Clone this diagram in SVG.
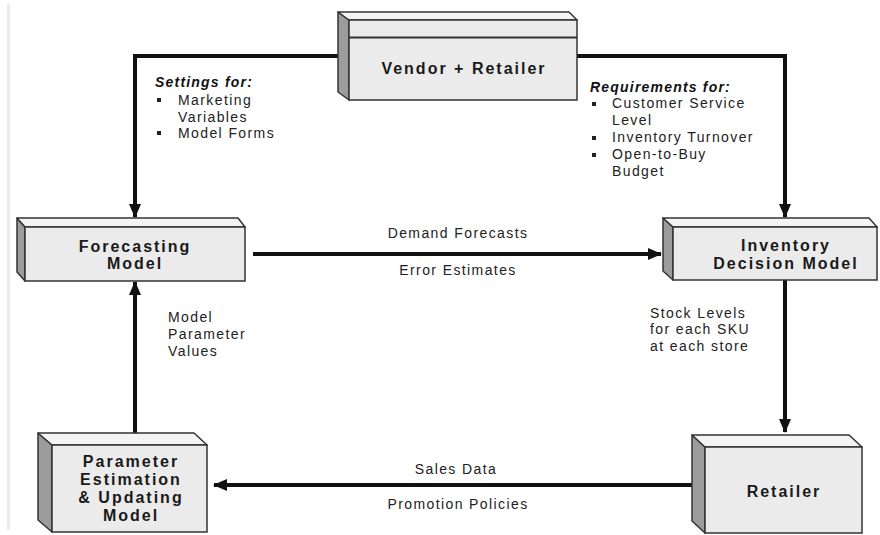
<svg xmlns="http://www.w3.org/2000/svg" width="880" height="535" viewBox="0 0 880 535">
<defs>
<marker id="ah" viewBox="0 0 14 12" refX="13" refY="6" markerWidth="14" markerHeight="12" markerUnits="userSpaceOnUse" orient="auto">
<path d="M0,0 L14,6 L0,12 Z" fill="#111"/>
</marker>
<style>
.front{fill:#ebebeb;stroke:#333;stroke-width:1.5}
.top{fill:#f4f4f4;stroke:#333;stroke-width:1.5;stroke-linejoin:round}
.side{fill:#9c9c9c;stroke:#333;stroke-width:1.5;stroke-linejoin:round}
.lbl{font-family:"Liberation Sans",Arial,sans-serif;font-weight:bold;font-size:16px;letter-spacing:2px;fill:#1a1a1a;text-anchor:middle}
.ann{font-family:"Liberation Sans",Arial,sans-serif;font-size:14px;letter-spacing:1.4px;fill:#222}
.annh{font-family:"Liberation Sans",Arial,sans-serif;font-size:14px;font-weight:bold;font-style:italic;letter-spacing:1.2px;fill:#111}
.mid{text-anchor:middle}
.conn{fill:none;stroke:#111;stroke-width:4}
.bul{fill:#222}
</style>
</defs>
<rect width="880" height="535" fill="#fff"/>
<line x1="8.5" y1="4" x2="8.5" y2="530" stroke="#ebebeb" stroke-width="3"/>

<g id="connectors">
<path class="conn" d="M338,56 H135 V217" marker-end="url(#ah)"/>
<path class="conn" d="M577,56 H785 V217" marker-end="url(#ah)"/>
<path class="conn" d="M253,254 H661" marker-end="url(#ah)"/>
<path class="conn" d="M785,280 V432" marker-end="url(#ah)"/>
<path class="conn" d="M692,485 H214" marker-end="url(#ah)"/>
<path class="conn" d="M135,433 V282" marker-end="url(#ah)"/>
</g>

<g id="node-vendor">
<polygon class="side" points="338,12 349,20 349,100 338,92"/>
<polygon class="top" points="338,12 569,12 577,20 349,20"/>
<rect class="front" x="349" y="20" width="228" height="80"/>
<line x1="349" y1="37.5" x2="577" y2="37.5" stroke="#333" stroke-width="2"/>
<text class="lbl" x="464" y="74">Vendor + Retailer</text>
</g>

<g id="node-forecasting">
<polygon class="side" points="17,218 25,227 25,281 17,272"/>
<polygon class="top" points="17,218 238,218 245,227 25,227"/>
<rect class="front" x="25" y="227" width="220" height="54"/>
<text class="lbl" x="135" y="251.5">Forecasting</text>
<text class="lbl" x="135" y="268.5">Model</text>
</g>

<g id="node-inventory">
<polygon class="side" points="663,218 673,227 673,280 663,271"/>
<polygon class="top" points="663,218 869,218 877,227 673,227"/>
<rect class="front" x="673" y="227" width="204" height="53"/>
<text class="lbl" x="786" y="251">Inventory</text>
<text class="lbl" x="786" y="269">Decision Model</text>
</g>

<g id="node-parameter">
<polygon class="side" points="38,433 52,445 52,532 38,520"/>
<polygon class="top" points="38,433 194,433 207,445 52,445"/>
<rect class="front" x="52" y="445" width="155" height="87"/>
<text class="lbl" x="131" y="467">Parameter</text>
<text class="lbl" x="131" y="485">Estimation</text>
<text class="lbl" x="131" y="503">&amp; Updating</text>
<text class="lbl" x="131" y="521">Model</text>
</g>

<g id="node-retailer">
<polygon class="side" points="692,435 705,447 705,533 692,521"/>
<polygon class="top" points="692,435 849,435 862,447 705,447"/>
<rect class="front" x="705" y="447" width="157" height="86"/>
<text class="lbl" x="784" y="497">Retailer</text>
</g>

<g id="labels">
<text class="annh" x="155" y="87">Settings for:</text>
<rect class="bul" x="157" y="98" width="4" height="4"/>
<text class="ann" x="178" y="105">Marketing</text>
<text class="ann" x="178" y="122">Variables</text>
<rect class="bul" x="157" y="131" width="4" height="4"/>
<text class="ann" x="178" y="138">Model Forms</text>

<text class="annh" x="590" y="92">Requirements for:</text>
<rect class="bul" x="592" y="102" width="4" height="4"/>
<text class="ann" x="612" y="108">Customer Service</text>
<text class="ann" x="612" y="125">Level</text>
<rect class="bul" x="592" y="136" width="4" height="4"/>
<text class="ann" x="612" y="142">Inventory Turnover</text>
<rect class="bul" x="592" y="153" width="4" height="4"/>
<text class="ann" x="612" y="159">Open-to-Buy</text>
<text class="ann" x="612" y="176">Budget</text>

<text class="ann mid" x="458" y="238">Demand Forecasts</text>
<text class="ann mid" x="458" y="275">Error Estimates</text>

<text class="ann" x="650" y="318">Stock Levels</text>
<text class="ann" x="650" y="334">for each SKU</text>
<text class="ann" x="650" y="351">at each store</text>

<text class="ann" x="168" y="322">Model</text>
<text class="ann" x="168" y="339">Parameter</text>
<text class="ann" x="168" y="356">Values</text>

<text class="ann mid" x="456" y="474">Sales Data</text>
<text class="ann mid" x="458" y="509">Promotion Policies</text>
</g>
</svg>
